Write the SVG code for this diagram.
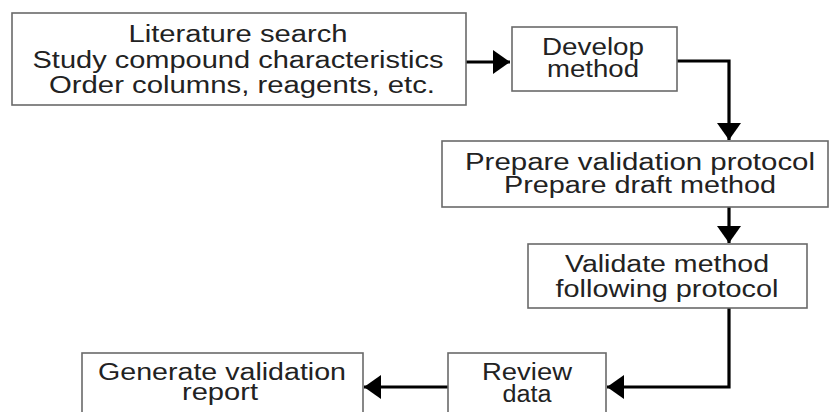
<svg xmlns="http://www.w3.org/2000/svg" width="831" height="412" viewBox="0 0 831 412">
<style>
.box{fill:#fff;stroke:#6a6a6a;stroke-width:1.6}
.t{font-family:"Liberation Sans",Arial,Helvetica,sans-serif;font-size:23px;fill:#222;text-anchor:middle}
.c{fill:none;stroke:#000;stroke-width:3.2}
</style>
<defs>
<marker id="ah" markerUnits="userSpaceOnUse" markerWidth="18" markerHeight="26" refX="17" refY="12" orient="auto" viewBox="0 0 18 24">
<path d="M0,0 L17,12 L0,24 z" fill="#000"/>
</marker>
</defs>
<rect width="831" height="412" fill="#fff"/>
<g id="connectors">
<path class="c" d="M466,62 L510,62" marker-end="url(#ah)"/>
<path class="c" d="M677,61 L729,61 L729,140" marker-end="url(#ah)"/>
<path class="c" d="M729,207 L729,243" marker-end="url(#ah)"/>
<path class="c" d="M729,308 L729,387 L607,387" marker-end="url(#ah)"/>
<path class="c" d="M448,387 L364,387" marker-end="url(#ah)"/>
</g>
<g id="n1">
<rect class="box" x="12" y="13" width="454" height="92"/>
<text class="t" x="238" y="42" textLength="219" lengthAdjust="spacingAndGlyphs">Literature search</text>
<text class="t" x="238" y="68" textLength="411" lengthAdjust="spacingAndGlyphs">Study compound characteristics</text>
<text class="t" x="242" y="93" textLength="386" lengthAdjust="spacingAndGlyphs">Order columns, reagents, etc.</text>
</g>
<g id="n2">
<rect class="box" x="512" y="27" width="165" height="64"/>
<text class="t" x="593" y="55" textLength="102" lengthAdjust="spacingAndGlyphs">Develop</text>
<text class="t" x="593" y="77" textLength="92" lengthAdjust="spacingAndGlyphs">method</text>
</g>
<g id="n3">
<rect class="box" x="442" y="141" width="386" height="66"/>
<text class="t" x="640" y="170" textLength="350" lengthAdjust="spacingAndGlyphs">Prepare validation  protocol</text>
<text class="t" x="640" y="193" textLength="272" lengthAdjust="spacingAndGlyphs">Prepare draft method</text>
</g>
<g id="n4">
<rect class="box" x="528" y="244" width="279" height="64"/>
<text class="t" x="667" y="272" textLength="204" lengthAdjust="spacingAndGlyphs">Validate method</text>
<text class="t" x="667" y="297" textLength="223" lengthAdjust="spacingAndGlyphs">following protocol</text>
</g>
<g id="n5">
<rect class="box" x="448" y="353" width="158" height="80"/>
<text class="t" x="527" y="380" textLength="90" lengthAdjust="spacingAndGlyphs">Review</text>
<text class="t" x="527" y="402" textLength="49" lengthAdjust="spacingAndGlyphs">data</text>
</g>
<g id="n6">
<rect class="box" x="82" y="353" width="281" height="80"/>
<text class="t" x="222" y="380" textLength="248" lengthAdjust="spacingAndGlyphs">Generate validation</text>
<text class="t" x="220" y="400" textLength="76" lengthAdjust="spacingAndGlyphs">report</text>
</g>
</svg>
